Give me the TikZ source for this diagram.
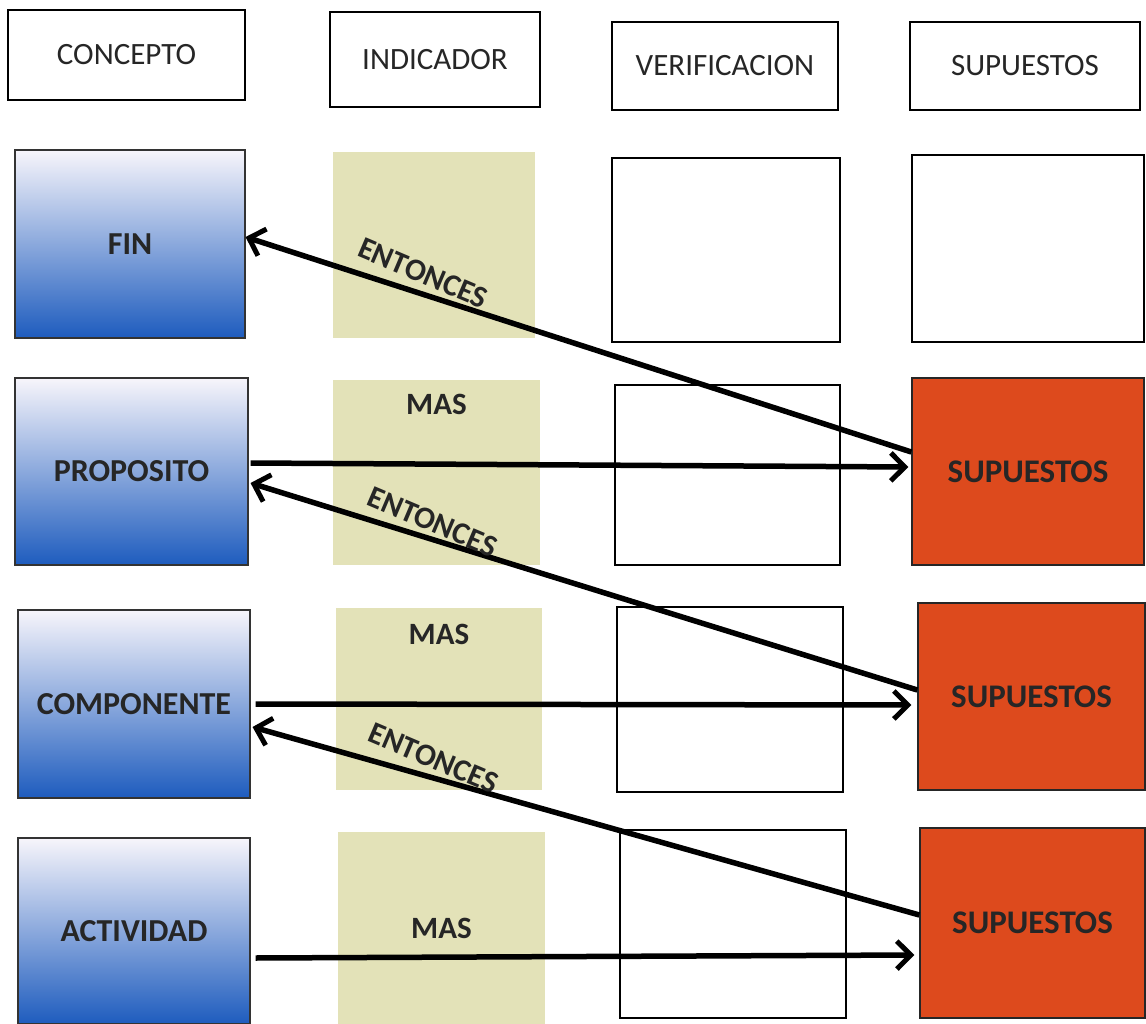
\documentclass[tikz,border=0pt]{standalone}
\usepackage{fontspec}
\setmainfont{Carlito}
\usetikzlibrary{arrows.meta}
\definecolor{khaki}{HTML}{E3E2B8}
\definecolor{orangebox}{HTML}{DD4A1D}
\definecolor{bluedeep}{HTML}{1E5CBE}
\definecolor{bluemid}{HTML}{A3BEE2}
\definecolor{bluetop}{HTML}{F7F5FB}
\definecolor{inkgray}{HTML}{262626}

\begin{document}
\begin{tikzpicture}[x=1pt,y=-1pt,
  sz/.style 2 args={minimum width=#1pt, minimum height=#2pt},
  headbox/.style={draw=black, line width=1.3pt, fill=white, inner sep=0pt,
    font=\fontsize{31}{33}\selectfont, text=inkgray},
  emptybox/.style={draw=black, line width=1.3pt, fill=white, inner sep=0pt},
  conceptbox/.style={draw=black!80, line width=1.1pt, inner sep=0pt,
    top color=bluetop, middle color=bluemid, bottom color=bluedeep,
    font=\fontsize{32}{34}\selectfont\bfseries, text=inkgray},
  indbox/.style={fill=khaki, inner sep=0pt,
    font=\fontsize{31}{33}\selectfont\bfseries, text=inkgray},
  supbox/.style={draw=black!85, line width=1.3pt, fill=orangebox, inner sep=0pt,
    font=\fontsize{33}{35}\selectfont\bfseries, text=inkgray},
  lbl/.style={font=\fontsize{31}{33}\selectfont\bfseries, text=inkgray, inner sep=0pt},
  link/.style={line width=5.5pt, -{Straight Barb[length=14pt, width=28pt, line width=5pt]}},
]
\useasboundingbox (0,0) rectangle (1146,1024);

% column headings
\node[headbox, sz={237}{90}] (h1) at (126.5,55)  {CONCEPTO};
\node[headbox, sz={210}{95}] (h2) at (435,59.5)  {INDICADOR};
\node[headbox, sz={226}{88}] (h3) at (725,66)    {VERIFICACION};
\node[headbox, sz={230}{88}] (h4) at (1025,66)   {SUPUESTOS};

% row 1
\node[conceptbox, sz={230}{188}] (fin) at (130,244)   {FIN};
\node[indbox,     sz={202}{186}] (k1)  at (434,245)   {};
\node[emptybox,   sz={228}{184}] (v1)  at (726,250)   {};
\node[emptybox,   sz={232}{187}] (s1)  at (1028,248.5) {};

% row 2
\node[conceptbox, sz={233}{187}] (prop) at (131.5,471.5) {PROPOSITO};
\node[indbox,     sz={207}{185}] (k2)   at (436.5,472.5) {};
\node[emptybox,   sz={225}{180}] (v2)   at (727.5,475)   {};
\node[supbox,     sz={232}{187}] (o2)   at (1028,471.5)  {SUPUESTOS};
\node[lbl] (m2) at ([yshift=-25pt]k2.north) {MAS};

% row 3
\node[conceptbox, sz={232}{188}] (comp) at (134,704)   {COMPONENTE};
\node[indbox,     sz={206}{182}] (k3)   at (439,699)   {};
\node[emptybox,   sz={226}{185}] (v3)   at (730,699.5) {};
\node[supbox,     sz={227}{187}] (o3)   at (1031.5,696.5) {SUPUESTOS};
\node[lbl] (m3) at ([yshift=-27pt]k3.north) {MAS};

% row 4
\node[conceptbox, sz={232}{186}] (act) at (134,931)  {ACTIVIDAD};
\node[indbox,     sz={207}{192}] (k4)  at (441.5,928) {MAS};
\node[emptybox,   sz={226}{188}] (v4)  at (733,924)  {};
\node[supbox,     sz={225}{190}] (o4)  at (1032.5,923) {SUPUESTOS};

% links between levels
\draw[link] ([yshift=19.5pt]o2.west) -- node[lbl, pos=0.745, rotate=-23, yshift=20pt] {ENTONCES} ([yshift=7pt]fin.east);
\draw[link] ([xshift=2pt,yshift=8.5pt]prop.east) -- ([xshift=-3pt,yshift=4.5pt]o2.west);
\draw[link] ([yshift=6.5pt]o3.west) -- node[lbl, pos=0.737, rotate=-23, yshift=17pt] {ENTONCES} ([xshift=2pt,yshift=-11.5pt]prop.east);
\draw[link] ([xshift=5pt]comp.east) -- ([xshift=-6pt,yshift=-8.5pt]o3.west);
\draw[link] ([yshift=8pt]o4.west) -- node[lbl, pos=0.74, rotate=-23, yshift=19pt] {ENTONCES} ([xshift=2pt,yshift=-23pt]comp.east);
\draw[link] ([xshift=5pt,yshift=-27pt]act.east) -- ([xshift=-5pt,yshift=-32pt]o4.west);
\end{tikzpicture}
\end{document}
